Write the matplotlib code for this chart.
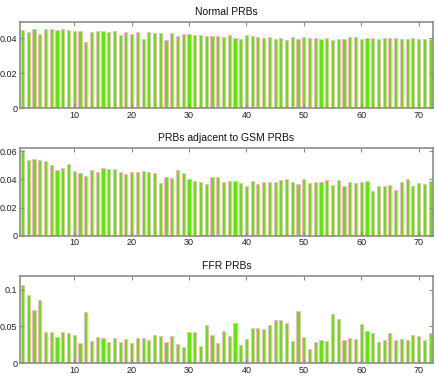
import matplotlib
matplotlib.use("Agg")
import matplotlib.pyplot as plt
import numpy as np

prb = np.arange(1, 73)

normal = [0.0448, 0.0434, 0.0453, 0.0425, 0.0451, 0.0451, 0.0450, 0.0451, 0.0450, 0.0440,
          0.0440, 0.0381, 0.0438, 0.0444, 0.0442, 0.0434, 0.0440, 0.0419, 0.0434, 0.0427,
          0.0434, 0.0396, 0.0436, 0.0431, 0.0431, 0.0391, 0.0429, 0.0413, 0.0427, 0.0423,
          0.0417, 0.0419, 0.0413, 0.0413, 0.0413, 0.0406, 0.0421, 0.0402, 0.0398, 0.0419,
          0.0415, 0.0408, 0.0402, 0.0406, 0.0394, 0.0400, 0.0389, 0.0406, 0.0394, 0.0406,
          0.0400, 0.0400, 0.0396, 0.0404, 0.0392, 0.0394, 0.0396, 0.0410, 0.0406, 0.0398,
          0.0400, 0.0402, 0.0394, 0.0400, 0.0404, 0.0400, 0.0396, 0.0398, 0.0400, 0.0398,
          0.0396, 0.0394]

adjacent = [0.0605, 0.0534, 0.0543, 0.0539, 0.0529, 0.0501, 0.0465, 0.0477, 0.0508, 0.0456,
            0.0446, 0.0420, 0.0465, 0.0453, 0.0477, 0.0470, 0.0475, 0.0449, 0.0437, 0.0449,
            0.0449, 0.0456, 0.0453, 0.0444, 0.0376, 0.0418, 0.0409, 0.0463, 0.0444, 0.0402,
            0.0385, 0.0383, 0.0366, 0.0418, 0.0413, 0.0380, 0.0390, 0.0387, 0.0371, 0.0352,
            0.0387, 0.0366, 0.0380, 0.0380, 0.0383, 0.0392, 0.0404, 0.0380, 0.0366, 0.0399,
            0.0376, 0.0383, 0.0380, 0.0397, 0.0357, 0.0397, 0.0350, 0.0383, 0.0376, 0.0380,
            0.0385, 0.0314, 0.0350, 0.0350, 0.0361, 0.0326, 0.0378, 0.0399, 0.0350, 0.0371,
            0.0366, 0.0385]

ffr = [0.1064, 0.0932, 0.0727, 0.0864, 0.0427, 0.0423, 0.0355, 0.0427, 0.0409, 0.0382,
       0.0282, 0.0700, 0.0305, 0.0355, 0.0350, 0.0291, 0.0350, 0.0295, 0.0327, 0.0273,
       0.0350, 0.0345, 0.0318, 0.0382, 0.0373, 0.0286, 0.0377, 0.0268, 0.0218, 0.0427,
       0.0423, 0.0232, 0.0514, 0.0391, 0.0273, 0.0441, 0.0368, 0.0545, 0.0255, 0.0327,
       0.0477, 0.0477, 0.0459, 0.0518, 0.0586, 0.0586, 0.0541, 0.0300, 0.0709, 0.0355,
       0.0191, 0.0295, 0.0314, 0.0305, 0.0668, 0.0595, 0.0314, 0.0341, 0.0332, 0.0532,
       0.0445, 0.0405, 0.0291, 0.0323, 0.0414, 0.0323, 0.0336, 0.0318, 0.0391, 0.0364,
       0.0318, 0.0414]

titles = ["Normal PRBs", "PRBs adjacent to GSM PRBs", "FFR PRBs"]
series = [normal, adjacent, ffr]
ylims = [0.0495, 0.0622, 0.119]
yticks = [[0, 0.02, 0.04], [0, 0.02, 0.04, 0.06], [0, 0.05, 0.1]]
yticklabels = [["0", "0.02", "0.04"], ["0", "0.02", "0.04", "0.06"], ["0", "0.05", "0.1"]]
xticks = [10, 20, 30, 40, 50, 60, 70]

plt.rcParams['font.family'] = ['Liberation Sans', 'DejaVu Sans']

fig = plt.figure(figsize=(4.36, 3.76), dpi=100)
positions = [(0.0459, 0.712, 0.9471, 0.2303),
             (0.0459, 0.3731, 0.9471, 0.2333),
             (0.0459, 0.0338, 0.9471, 0.2330)]

green = '#5fe800'
pink = '#ffb0d8'
spine_col = '#8c8c8c'

for pos, title, vals, yl, yt, ytl in zip(positions, titles, series, ylims, yticks, yticklabels):
    ax = fig.add_axes(pos)
    ax.bar(prb, vals, width=0.55, color=green, edgecolor=pink, linewidth=0.6)
    ax.set_xlim(0.55, 72.5)
    ax.set_ylim(0, yl)
    ax.set_xticks(xticks)
    ax.set_xticklabels([str(t) for t in xticks])
    ax.set_yticks(yt)
    ax.set_yticklabels(ytl)
    ax.tick_params(direction='in', top=True, right=True, length=3, width=0.8,
                   color=spine_col, labelsize=6.5, pad=2, labelcolor='#222222')
    for s in ax.spines.values():
        s.set_color(spine_col)
        s.set_linewidth(1.2)
    ax.set_title(title, fontsize=7.5, pad=5, color='#111111')

fig.savefig("out.png", dpi=100)
